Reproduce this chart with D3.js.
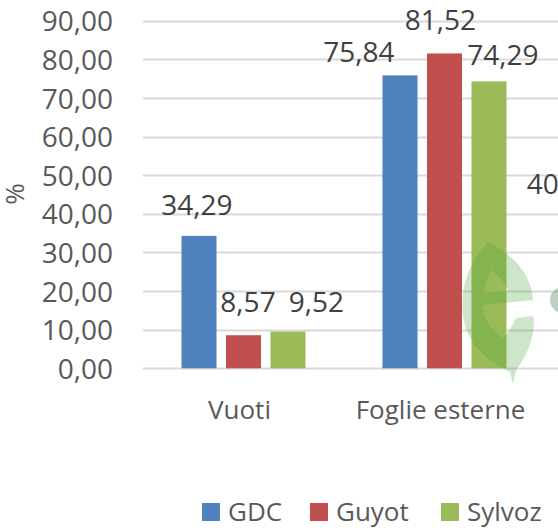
<!DOCTYPE html>
<html>
<head>
<meta charset="utf-8">
<script src="https://cdn.jsdelivr.net/npm/d3@7"></script>
<style>
  body { margin: 0; background: #fff; }
  svg { display: block; font-family: "Open Sans", sans-serif; }
</style>
</head>
<body>
<div id="chart"></div>
<script>
// data (third group is cut off by the picture edge, only its GDC label shows)
const categories = ["Vuoti", "Foglie esterne", ""];
const series = ["GDC", "Guyot", "Sylvoz"];
const gdc = [34.29, 75.84, 40.00];
const guyot = [8.57, 81.52, null];
const sylvoz = [9.52, 74.29, null];
const yTicks = [0, 10, 20, 30, 40, 50, 60, 70, 80, 90];

const values = [gdc, guyot, sylvoz];
const colors = ["#4f81bd", "#c0504d", "#9bbb59"];

// hand-moved data labels in the original: [dx, dy from bar top] per series/category
const labelNudge = [
    [[-2, -31], [-41, -23.5], [-38.5, -30]],
    [[4.5, -33], [-4, -33.5], [0, -30]],
    [[28.5, -29.5], [14, -26.5], [0, -30]]
];

const width = 558, height = 531;
const plotLeft = 143;
const fmt = v => v.toFixed(2).replace(".", ",");

const svg = d3.select("#chart")
    .append("svg")
    .attr("width", width)
    .attr("height", height);

const x0 = d3.scaleBand()
    .domain(d3.range(categories.length))
    .range([plotLeft, plotLeft + 201 * categories.length])
    .padding(0);

const x1 = d3.scaleBand()
    .domain(series)
    .range([0, x0.bandwidth()])
    .paddingInner(0.213)
    .paddingOuter(0.865);

const y = d3.scaleLinear()
    .domain([0, 90])
    .range([368.3, 20.7]);

// gridlines
svg.append("g")
    .selectAll("line")
    .data(yTicks)
    .join("line")
    .attr("x1", plotLeft)
    .attr("x2", width)
    .attr("y1", d => Math.round(y(d)) + 0.5)
    .attr("y2", d => Math.round(y(d)) + 0.5)
    .attr("stroke", "#d9d9d9")
    .attr("stroke-width", 2);

// y axis labels
const yAxis = svg.append("g")
    .attr("transform", `translate(${plotLeft - 30},0)`)
    .call(d3.axisLeft(y).tickValues(yTicks).tickFormat(fmt).tickSize(0).tickPadding(0));
yAxis.select(".domain").remove();
yAxis.selectAll("text")
    .attr("font-family", "Open Sans")
    .attr("font-size", 28)
    .attr("fill", "#595959")
    .attr("dy", "0.36em");

svg.append("text")
    .attr("transform", "translate(24,194) rotate(-90)")
    .attr("text-anchor", "middle")
    .attr("font-size", 26)
    .attr("fill", "#595959")
    .text("%");

// bars
const bars = [];
series.forEach((s, si) => {
    values[si].forEach((v, ci) => {
        if (v != null) bars.push({ s, si, ci, v });
    });
});

svg.append("g")
    .selectAll("rect")
    .data(bars)
    .join("rect")
    .attr("x", d => x0(d.ci) + x1(d.s))
    .attr("y", d => y(d.v))
    .attr("width", x1.bandwidth())
    .attr("height", d => y(0) - y(d.v))
    .attr("fill", d => colors[d.si]);

// watermark leaf
const wm = svg.append("g").attr("pointer-events", "none");
wm.append("path")
    .attr("fill-rule", "evenodd")
    .attr("fill", "rgba(70,160,50,0.27)")
    .attr("d",
        "M488,242 C470,262 460,285 463,315 C466,345 490,362 510,372 L513,384 L516,370 " +
        "C530,352 536,330 533,316 L516,318 C512,326 508,334 503,338 " +
        "C490,330 483,318 483,305 L533,300 C532,280 520,258 488,242 Z " +
        "M484,292 C485,282 488,275 492,270 C500,278 506,284 508,291 Z");
wm.append("circle")
    .attr("cx", 563)
    .attr("cy", 300)
    .attr("r", 13)
    .attr("fill", "rgba(110,150,120,0.45)");

// data labels
svg.append("g")
    .selectAll("text")
    .data(bars)
    .join("text")
    .attr("x", d => x0(d.ci) + x1(d.s) + x1.bandwidth() / 2 + labelNudge[d.si][d.ci][0])
    .attr("y", d => y(d.v) + labelNudge[d.si][d.ci][1] + 10)
    .attr("text-anchor", "middle")
    .attr("font-size", 28)
    .attr("fill", "#404040")
    .text(d => fmt(d.v));

// category labels
svg.append("g")
    .selectAll("text")
    .data(categories)
    .join("text")
    .attr("x", (d, i) => x0(i) + x0.bandwidth() / 2 - 4)
    .attr("y", 419)
    .attr("text-anchor", "middle")
    .attr("font-size", 26)
    .attr("fill", "#595959")
    .text(d => d);

// legend
const legendX = [202, 310, 441];
const legend = svg.append("g")
    .selectAll("g")
    .data(series)
    .join("g")
    .attr("transform", (d, i) => `translate(${legendX[i]},503)`);
legend.append("rect")
    .attr("width", 18)
    .attr("height", 18)
    .attr("fill", (d, i) => colors[i]);
legend.append("text")
    .attr("x", 26)
    .attr("y", 18)
    .attr("font-size", 26)
    .attr("fill", "#595959")
    .text(d => d);
</script>
</body>
</html>
